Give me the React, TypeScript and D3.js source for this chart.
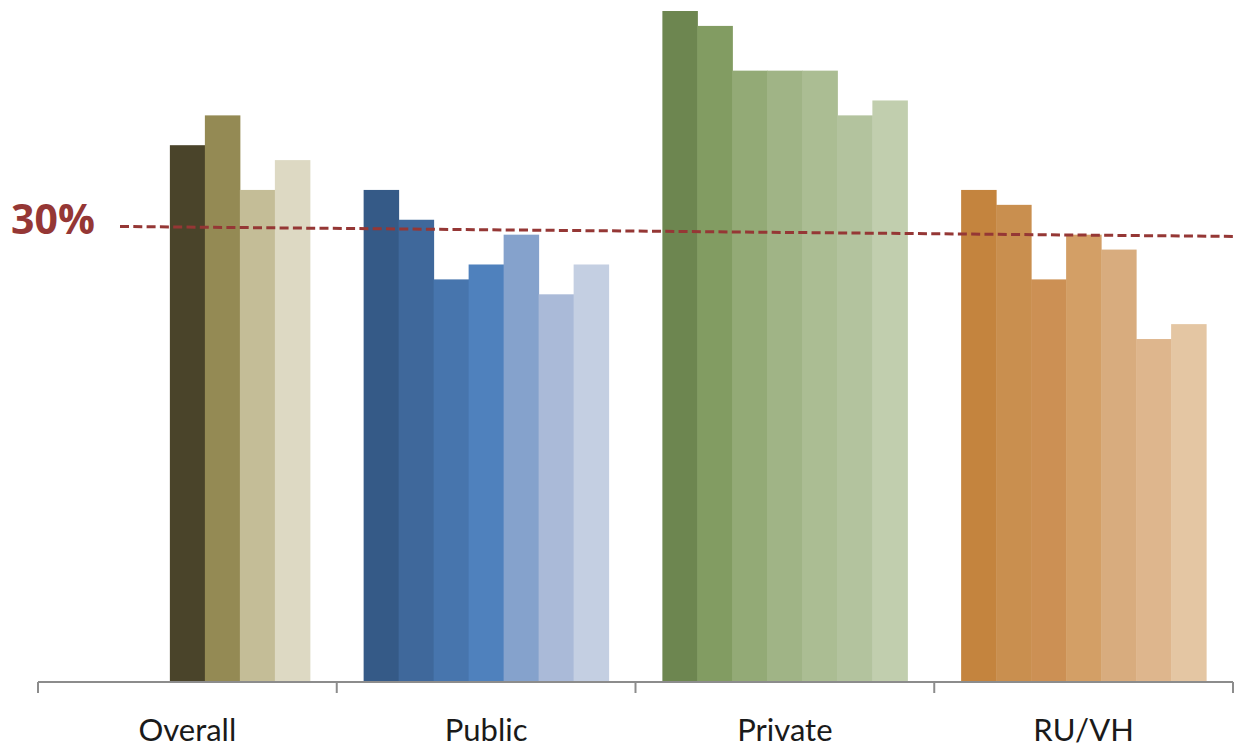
import React from "react";
import * as d3 from "d3";

const categories = ["Overall", "Public", "Private", "RU/VH"];
const overallValues = [36, 38, 33, 35];
const publicValues = [33, 31, 27, 28, 30, 26, 28];
const privateValues = [45, 44, 41, 41, 41, 38, 39];
const ruvhValues = [33, 32, 27, 30, 29, 23, 24];

const overallColors = ["#4a442a", "#948a54", "#c4bd97", "#ddd9c3"];
const publicColors = ["#355a87", "#3f689b", "#4775ad", "#4f81bd", "#85a2cc", "#aabad8", "#c4cfe2"];
const privateColors = ["#6d8650", "#829c62", "#93aa76", "#a0b486", "#abbd93", "#b3c39e", "#c1ceae"];
const ruvhColors = ["#c4843e", "#c98f4f", "#cc9054", "#d39f66", "#d8ac7e", "#deb68d", "#e4c6a3"];

const referenceLabel = "30%";
const referenceStart = 30.55;
const referenceEnd = 29.88;

const W = 1236;
const H = 748;
const SLOTS = 7;

export default function App() {
  const groups = [
    { name: categories[0], values: overallValues, colors: overallColors },
    { name: categories[1], values: publicValues, colors: publicColors },
    { name: categories[2], values: privateValues, colors: privateColors },
    { name: categories[3], values: ruvhValues, colors: ruvhColors },
  ];

  const x = d3.scaleBand<string>().domain(categories).range([38, 1233]).paddingInner(0).paddingOuter(0);
  const slot = d3
    .scaleBand<number>()
    .domain(d3.range(SLOTS))
    .range([0, x.bandwidth()])
    .paddingInner(0)
    .paddingOuter(0.768);
  const y = d3.scaleLinear().domain([0, 45]).range([682, 11]);

  const axisY = y(0);
  const ticks = [...categories.map((c) => x(c) as number), 1233];

  return (
    <svg width={W} height={H} style={{ position: "absolute", left: 0, top: 0, background: "#fff" }}>
      {groups.map((g) => {
        const offset = SLOTS - g.values.length;
        return (
          <g key={g.name} transform={`translate(${x(g.name)},0)`}>
            {g.values.map((v, i) => (
              <rect
                key={i}
                x={slot(i + offset) as number}
                y={y(v)}
                width={slot.bandwidth() + 0.5}
                height={axisY - y(v)}
                fill={g.colors[i]}
              />
            ))}
          </g>
        );
      })}
      <line x1={38} x2={1233} y1={axisY} y2={axisY} stroke="#8c8c8c" strokeWidth={2} />
      {ticks.map((t, i) => (
        <line key={i} x1={t} x2={t} y1={axisY} y2={axisY + 11} stroke="#8c8c8c" strokeWidth={2} />
      ))}
      {categories.map((c) => (
        <text
          key={c}
          x={(x(c) as number) + x.bandwidth() / 2}
          y={741}
          textAnchor="middle"
          fontFamily="Lato, 'Open Sans', sans-serif"
          fontSize={31}
          fill="#1a1a1a"
        >
          {c}
        </text>
      ))}
      <line
        x1={120}
        x2={W}
        y1={y(referenceStart)}
        y2={y(referenceEnd)}
        stroke="#953735"
        strokeWidth={3}
        strokeDasharray="9 4.3"
      />
      <text
        x={11}
        y={234}
        fontFamily="'Open Sans', sans-serif"
        fontWeight="bold"
        fontSize={41}
        fill="#953735"
      >
        {referenceLabel}
      </text>
    </svg>
  );
}
